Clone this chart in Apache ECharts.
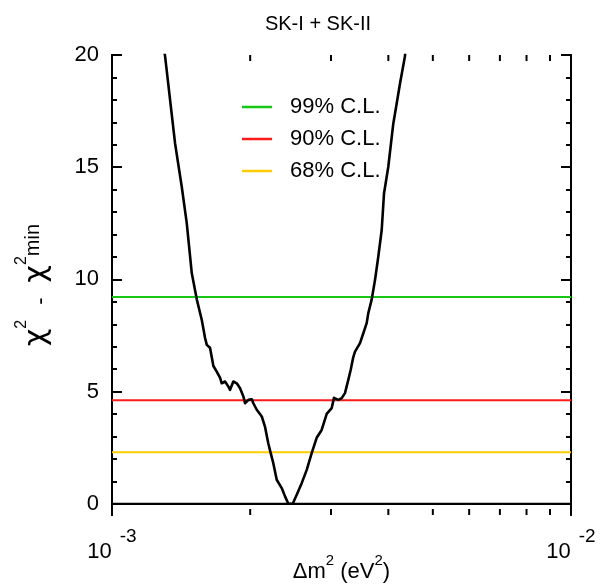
<!DOCTYPE html>
<html>
<head>
<meta charset="utf-8">
<script src="https://cdn.jsdelivr.net/npm/echarts@6/dist/echarts.min.js"></script>
<style>
html, body { margin: 0; padding: 0; background: #fff; }
#chart { width: 614px; height: 587px; }
</style>
</head>
<body>
<div id="chart"></div>
<script>
// Δm² scan (eV²) and the χ² - χ²min profile
const dm2 = [
  1.290e-3, 1.305e-3, 1.372e-3, 1.419e-3, 1.455e-3, 1.492e-3, 1.530e-3, 1.569e-3,
  1.595e-3, 1.609e-3, 1.635e-3, 1.663e-3, 1.691e-3, 1.720e-3, 1.734e-3, 1.763e-3,
  1.793e-3, 1.808e-3, 1.838e-3, 1.870e-3, 1.901e-3, 1.933e-3, 1.949e-3, 1.982e-3,
  2.016e-3, 2.032e-3, 2.067e-3, 2.120e-3, 2.154e-3, 2.190e-3, 2.217e-3, 2.246e-3,
  2.285e-3, 2.343e-3, 2.382e-3, 2.422e-3, 2.476e-3, 2.526e-3, 2.590e-3, 2.656e-3,
  2.723e-3, 2.792e-3, 2.863e-3, 2.936e-3, 3.010e-3, 3.045e-3, 3.112e-3, 3.166e-3,
  3.218e-3, 3.272e-3, 3.312e-3, 3.355e-3, 3.384e-3, 3.470e-3, 3.528e-3, 3.588e-3,
  3.617e-3, 3.680e-3, 3.741e-3, 3.803e-3, 3.869e-3, 3.914e-3, 3.999e-3, 4.101e-3,
  4.171e-3, 4.241e-3, 4.348e-3, 4.370e-3
];
const dchi2 = [
  20.60, 19.95, 16.07, 14.13, 12.51, 10.28, 9.11, 8.19,
  7.39, 7.08, 6.95, 6.14, 5.89, 5.61, 5.37, 5.45,
  5.22, 5.08, 5.45, 5.37, 5.15, 4.78, 4.48, 4.63,
  4.66, 4.48, 4.19, 3.89, 3.44, 2.70, 2.26, 1.81,
  1.07, 0.70, 0.33, 0.00, 0.00, 0.40, 0.92, 1.51,
  2.26, 2.94, 3.29, 4.01, 4.26, 4.72, 4.63, 4.71,
  4.93, 5.52, 5.97, 6.54, 6.78, 7.16, 7.60, 8.05,
  8.49, 9.11, 9.97, 11.01, 12.20, 13.83, 15.02, 16.95,
  17.84, 18.73, 19.95, 20.60
];

// confidence-level thresholds
const clLabels = ['99% C.L.', '90% C.L.', '68% C.L.'];
const clValues = [9.21, 4.61, 2.30];
const clColors = ['#14c814', '#ff1a1a', '#ffcc00'];

// axis ranges and tick positions
const xRange = [1e-3, 1e-2];
const yRange = [-0.5, 20];
const yMajorTicks = [0, 5, 10, 15, 20];
const yMinorTicks = [1, 2, 3, 4, 6, 7, 8, 9, 11, 12, 13, 14, 16, 17, 18, 19];
const xMinorTicks = [2e-3, 3e-3, 4e-3, 5e-3, 6e-3, 7e-3, 8e-3, 9e-3];

const FONT = "'Liberation Sans', Arial, Helvetica, sans-serif";
const GREEK = "'DejaVu Sans', 'Liberation Sans', sans-serif";
const chart = echarts.init(document.getElementById('chart'), null, { renderer: 'canvas' });

function yAxisDef(position, ticks, len, withLabel) {
  return {
    type: 'value', position: position, min: yRange[0], max: yRange[1],
    axisLine: { show: true, lineStyle: { color: '#000', width: 2 } },
    axisTick: { show: true, inside: true, length: len, customValues: ticks,
                lineStyle: { color: '#000', width: 2 } },
    axisLabel: withLabel
      ? { show: true, customValues: ticks, margin: 13, color: '#000', fontSize: 22, fontFamily: FONT }
      : { show: false },
    splitLine: { show: false }
  };
}

const yLeft = yAxisDef('left', yMajorTicks, 10, true);
yLeft.name = '{g|χ}{s|2}{t|-}{g|χ}{s|2}{m|min}';
yLeft.nameLocation = 'middle';
yLeft.nameRotate = 90;
yLeft.nameGap = 60;
yLeft.nameMoveOverlap = false;
yLeft.nameTextStyle = {
  color: '#000', fontFamily: FONT,
  rich: {
    t: { fontSize: 22, fontFamily: FONT, color: '#000', lineHeight: 38, verticalAlign: 'bottom', padding: [0, 15, 0, 15] },
    g: { fontSize: 30, fontFamily: GREEK, color: '#000', lineHeight: 38, verticalAlign: 'bottom' },
    s: { fontSize: 16, fontFamily: FONT, color: '#000', verticalAlign: 'top', lineHeight: 38 },
    m: { fontSize: 20, fontFamily: FONT, color: '#000', verticalAlign: 'middle', lineHeight: 32 }
  }
};

const series = [
  {
    type: 'line', name: 'zero', xAxisIndex: 0, yAxisIndex: 0,
    data: [[xRange[0], 0], [xRange[1], 0]],
    symbol: 'none', lineStyle: { color: '#000', width: 2 }, silent: true, z: 2
  }
];
clLabels.forEach((lab, i) => {
  series.push({
    type: 'line', name: lab, xAxisIndex: 0, yAxisIndex: 0,
    data: [[xRange[0], clValues[i]], [xRange[1], clValues[i]]],
    symbol: 'none', color: clColors[i],
    lineStyle: { color: clColors[i], width: 2 }, z: 3
  });
});
series.push({
  type: 'line', name: 'scan', xAxisIndex: 0, yAxisIndex: 0,
  data: dm2.map((x, i) => [x, dchi2[i]]),
  symbol: 'none', clip: true,
  lineStyle: { color: '#000', width: 2.6, join: 'round' }, z: 5
});
// minor ticks of the log axis, bottom and top edges
series.push({
  type: 'custom', name: 'xticks', xAxisIndex: 0, yAxisIndex: 0,
  data: xMinorTicks.map(v => [v, 0]),
  silent: true, z: 6,
  renderItem: function (params, api) {
    const x = api.value(0);
    const pb = api.coord([x, yRange[0]]);
    const pt = api.coord([x, yRange[1]]);
    const st = { stroke: '#000', lineWidth: 2 };
    return {
      type: 'group',
      children: [
        { type: 'line', shape: { x1: pb[0], y1: pb[1], x2: pb[0], y2: pb[1] - 6 }, style: st },
        { type: 'line', shape: { x1: pt[0], y1: pt[1], x2: pt[0], y2: pt[1] + 6 }, style: st }
      ]
    };
  }
});

chart.setOption({
  animation: false,
  backgroundColor: '#fff',
  title: {
    text: 'SK-I + SK-II', left: 313, top: 9, textAlign: 'center',
    textStyle: { fontSize: 20, fontWeight: 'normal', color: '#000', fontFamily: FONT }
  },
  legend: {
    data: clLabels, orient: 'vertical', left: 242, top: 96, padding: 0,
    icon: 'rect', itemWidth: 30, itemHeight: 2.5, itemGap: 10,
    textStyle: { fontSize: 22, color: '#000', fontFamily: FONT, padding: [0, 0, 0, 13] }
  },
  grid: { left: 112, right: 43, top: 55, bottom: 72, containLabel: false, outerBoundsMode: 'none' },
  xAxis: [
    {
      type: 'log', logBase: 10, position: 'bottom', min: xRange[0], max: xRange[1],
      axisLine: { show: true, lineStyle: { color: '#000', width: 2 } },
      axisTick: { show: false },
      splitLine: { show: false },
      axisLabel: {
        margin: 12, color: '#000', fontFamily: FONT,
        formatter: function (v) {
          return '{t|10}{s|' + Math.round(Math.log10(v)) + '}';
        },
        rich: {
          t: { fontSize: 22, fontFamily: FONT, color: '#000', lineHeight: 36, verticalAlign: 'bottom' },
          s: { fontSize: 19, fontFamily: FONT, color: '#000', lineHeight: 36, verticalAlign: 'top', padding: [0, 0, 0, 8] }
        }
      },
      name: '{t|Δm}{s|2}{t| (eV}{s|2}{t|)}',
      nameLocation: 'middle', nameGap: 38, nameMoveOverlap: false,
      nameTextStyle: {
        color: '#000', fontFamily: FONT,
        rich: {
          t: { fontSize: 22, fontFamily: FONT, color: '#000', lineHeight: 30, verticalAlign: 'bottom' },
          s: { fontSize: 15, fontFamily: FONT, color: '#000', lineHeight: 30, verticalAlign: 'top' }
        }
      }
    },
    {
      type: 'log', logBase: 10, position: 'top', min: xRange[0], max: xRange[1],
      axisLine: { show: true, lineStyle: { color: '#000', width: 2 } },
      axisTick: { show: false }, axisLabel: { show: false }, splitLine: { show: false }
    }
  ],
  yAxis: [
    yLeft,
    yAxisDef('left', yMinorTicks, 5, false),
    yAxisDef('right', yMajorTicks, 10, false),
    yAxisDef('right', yMinorTicks, 5, false)
  ],
  series: series
});
</script>
</body>
</html>
